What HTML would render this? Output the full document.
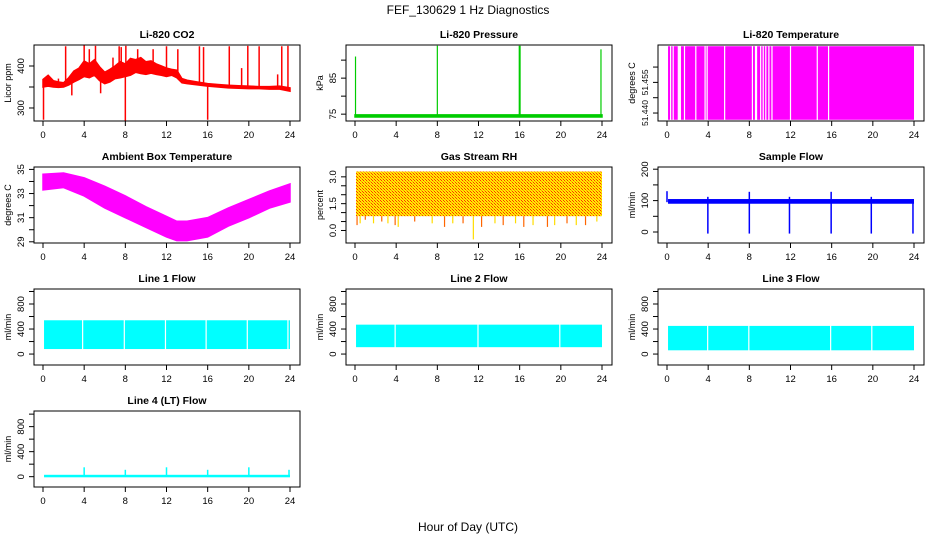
<!DOCTYPE html>
<html><head><meta charset="utf-8"><style>
html,body{margin:0;padding:0;background:#fff}
svg{display:block}
text{font-family:"Liberation Sans",Arial,sans-serif}
</style></head><body>
<svg id="c" width="936" height="540" viewBox="0 0 936 540" xmlns="http://www.w3.org/2000/svg">
<defs>
<pattern id="rhpat" width="3" height="3" patternUnits="userSpaceOnUse">
<rect width="3" height="3" fill="#ffee00"/><rect x="0" y="0" width="1" height="1" fill="#ff3300"/><rect x="2" y="2" width="1" height="1" fill="#ff3300"/><rect x="1" y="1" width="1" height="1" fill="#ff9900"/>
</pattern>
</defs>
<text x="468" y="14" text-anchor="middle" font-size="12">FEF_130629  1 Hz Diagnostics</text>
<text x="468" y="531" text-anchor="middle" font-size="12">Hour of Day (UTC)</text>
</svg>
<script>
// ---- data ----
const xTicks = [0,4,8,12,16,20,24];
// CO2
const co2Hours = [0,0.5,1,1.5,2,2.5,3,3.5,4,4.5,5,5.5,6,6.5,7,7.5,8,8.5,9,9.5,10,10.5,11,11.5,12,12.5,13,13.5,14,15,16,17,18,19,20,21,22,23,24];
const co2Lo = [350,352,350,349,350,355,362,368,375,372,378,365,358,362,370,372,375,378,385,382,380,383,380,378,375,378,372,360,358,355,352,350,348,347,346,346,345,345,340];
const co2Hi = [368,378,365,362,360,372,388,395,412,405,415,398,385,392,400,410,405,418,415,420,410,412,405,400,395,392,390,370,366,362,358,356,354,353,352,351,351,352,348];
const co2SpikeHours = [0.05,1.5,2.2,2.8,4,4.5,5.1,5.6,6.8,7.4,7.6,8,8.05,9.2,10.7,12,13.1,15.2,15.6,16,18.1,19.3,19.9,21,22.8,23.2,23.8];
const co2SpikeVals = [272,370,447,330,450,440,448,335,420,447,445,268,448,440,440,447,440,447,445,272,447,395,448,447,380,447,448];
// Pressure
const presHours = [0,24];
const presBase = [74.5,74.5];
const presSpikeHours = [0.05,8,16,23.9];
const presSpikeVals = [91,94,94,93];
// Li-820 temperature
const ltLo = 51.4378, ltHi = 51.4618;
const ltGapHours = [0.35,0.6,1.1,1.2,1.3,1.7,2.8,3.7,3.9,5.6,8.3,8.6,8.7,9.1,9.35,9.6,9.9,10.2,12,14.6,15.7];
// Ambient box temperature
const ambHours = [0,2,4,6,8,10,12,13,14,16,18,20,22,24];
const ambLo = [33.3,33.5,32.8,31.8,31,30.2,29.4,29.1,29.1,29.4,30.3,31,31.8,32.3];
const ambHi = [34.6,34.7,34.3,33.6,32.8,31.9,31.1,30.7,30.7,31,31.8,32.5,33.2,33.8];
// Gas stream RH
const rhLo = 0.8, rhHi = 3.3;
const rhDipHours = [0.2,0.5,1,1.8,2.6,3.2,3.9,4.2,5.8,7.5,8.7,9.5,10.5,11.5,12.3,13.6,14.4,15.6,16.4,17.3,18.7,19.4,20.6,21.5,22.4,23.5];
const rhDipVals = [0.3,0.4,0.6,0.4,0.5,0.4,0.3,0.2,0.5,0.4,0.2,0.4,0.4,-0.5,0.2,0.4,0.3,0.4,0.2,0.3,0.2,0.3,0.4,0.3,0.3,0.5];
// Sample flow
const sfLo = 90, sfHi = 105;
const sfSpikeHours = [0,3.97,8,11.9,15.95,19.85,23.9];
const sfSpikeMin = [95,-5,-5,-5,-5,-5,-5];
const sfSpikeMax = [130,112,128,112,128,112,105];
// Line flows
const l1Lo = 80, l1Hi = 540, l1Gaps = [3.85,7.9,11.9,15.85,19.85,23.8];
const l2Lo = 110, l2Hi = 470, l2Gaps = [3.9,11.95,19.9];
const l3Lo = 60, l3Hi = 450, l3Gaps = [3.95,7.95,15.9,19.9];
const l4Base = 10;
const l4SpikeHours = [4,8,12,16,20,24];
const l4SpikeVals = [150,110,150,110,150,110];

// ---- layout ----
const NS="http://www.w3.org/2000/svg";
const svg=document.getElementById('c');
const colL=[34,346,658], rowT=[45,167,289,411], W=266, H=76;
function el(tag,attrs,parent){const e=document.createElementNS(NS,tag);for(const k in attrs)e.setAttribute(k,attrs[k]);(parent||svg).appendChild(e);return e;}

function panel(name,col,row,title,ylab,dom,yticks,ylabels,draw,fs){
  const L=colL[col],T=rowT[row],B=T+H,R=L+W;
  const g=el('g',{});
  
  
  const xs=h=>L+9+h*(247/24);
  const ys=v=>B-(v-dom[0])/(dom[1]-dom[0])*H;
  const t=el('text',{x:(L+R)/2,y:T-7,'text-anchor':'middle','font-size':'10.5','font-weight':'bold'},g);
  t.textContent=title;
  
  
  const plot=el('g',{},g);
  
  
  draw(plot,xs,ys);
  const box=el('rect',{x:L,y:T,width:W,height:H,fill:'none',stroke:'#000','stroke-width':1},g);
  
  
  xTicks.forEach(h=>{
    el('line',{x1:xs(h),x2:xs(h),y1:B,y2:B+5,stroke:'#000'},g);
    const tx=el('text',{x:xs(h),y:B+17,'text-anchor':'middle','font-size':'9.5'},g);
    tx.textContent=h;
    
    
  });
  yticks.forEach((v,i)=>{
    const y=ys(v);
    el('line',{x1:L,x2:L-5,y1:y,y2:y,stroke:'#000'},g);
    if(ylabels[i]){
      const tx=el('text',{x:L-10,y:y,'text-anchor':'middle','font-size':fs||'9.5',transform:`rotate(-90 ${L-10} ${y})`},g);
      tx.textContent=ylabels[i];
      
      
    }
  });
  const yl=el('text',{x:L-23,y:(T+B)/2,'text-anchor':'middle','font-size':'9',transform:`rotate(-90 ${L-23} ${(T+B)/2})`},g);
  yl.textContent=ylab;
  
  
}
function band(p,xs,ys,hours,lo,hi,color){
  let d='M'+hours.map((h,i)=>xs(h)+','+ys(hi[i])).join('L');
  for(let i=hours.length-1;i>=0;i--)d+='L'+xs(hours[i])+','+ys(lo[i]);
  const e=el('path',{d:d+'Z',fill:color,stroke:color,'stroke-width':1.5},p);
  
  
}
function vline(p,x,y1,y2,color,w){
  const e=el('line',{x1:x,x2:x,y1:y1,y2:y2,stroke:color,'stroke-width':w||1.2},p);
  
  
}
function rectBand(p,xs,ys,lo,hi,fill,gaps,name){
  const e=el('rect',{x:xs(0.1),y:ys(hi),width:xs(24)-xs(0.1),height:ys(lo)-ys(hi),fill:fill},p);
  
  
  (gaps||[]).forEach(h=>vline(p,xs(h),ys(hi)-1,ys(lo)+1,'#fff',1.2));
}
function nearestIdx(arr,h){let b=0;arr.forEach((v,i)=>{if(Math.abs(v-h)<Math.abs(arr[b]-h))b=i;});return b;}

panel('co2',0,0,'Li-820 CO2','Licor ppm',[269,450],[300,350,400],['300','','400'],(p,xs,ys)=>{
  band(p,xs,ys,co2Hours,co2Lo,co2Hi,'#ff0000');
  co2SpikeHours.forEach((h,i)=>{const k=nearestIdx(co2Hours,h);vline(p,xs(h),ys(co2SpikeVals[i]),ys((co2Lo[k]+co2Hi[k])/2),'#ff0000',1.5);});
});
panel('pressure',1,0,'Li-820 Pressure','kPa',[73.1,94.2],[75,80,85,90],['75','','85',''],(p,xs,ys)=>{
  band(p,xs,ys,presHours,presBase.map(v=>v-0.3),presBase.map(v=>v+0.3),'#00cc00');
  presSpikeHours.forEach((h,i)=>vline(p,xs(h),ys(presSpikeVals[i]),ys(presBase[0]),'#00cc00',h==16?2:1.2));
});
panel('li820-temp',2,0,'Li-820 Temperature','degrees C',[51.4374,51.4622],[51.440,51.445,51.450,51.455],['51.440','','51.455',''],(p,xs,ys)=>{
  rectBand(p,xs,ys,ltLo,ltHi,'#ff00ff',ltGapHours,'temp-block');
},'8.5');
panel('ambient',0,1,'Ambient Box Temperature','degrees C',[28.9,35.2],[29,30,31,32,33,34,35],['29','','31','','33','','35'],(p,xs,ys)=>{
  band(p,xs,ys,ambHours,ambLo,ambHi,'#ff00ff');
});
panel('rh',1,1,'Gas Stream RH','percent',[-0.7,3.55],[0,0.5,1,1.5,2,2.5,3],['0.0','','','1.5','','','3.0'],(p,xs,ys)=>{
  rectBand(p,xs,ys,rhLo,rhHi,'url(#rhpat)',[],'rh-block');
  rhDipHours.forEach((h,i)=>vline(p,xs(h),ys(rhLo),ys(rhDipVals[i]),i%2?'#ffdd00':'#ff6600',1.2));
});
panel('sample-flow',2,1,'Sample Flow','ml/min',[-35,207],[0,50,100,150,200],['0','','100','','200'],(p,xs,ys)=>{
  rectBand(p,xs,ys,sfLo,sfHi,'#0000ff',[],'flow-block');
  sfSpikeHours.forEach((h,i)=>vline(p,xs(h),ys(sfSpikeMax[i]),ys(sfSpikeMin[i]),'#0000ff',1.5));
});
panel('line1',0,2,'Line 1 Flow','ml/min',[-175,1040],[0,200,400,600,800,1000],['0','','400','','800',''],(p,xs,ys)=>{
  rectBand(p,xs,ys,l1Lo,l1Hi,'#00ffff',l1Gaps,'line1-block');
});
panel('line2',1,2,'Line 2 Flow','ml/min',[-175,1040],[0,200,400,600,800,1000],['0','','400','','800',''],(p,xs,ys)=>{
  rectBand(p,xs,ys,l2Lo,l2Hi,'#00ffff',l2Gaps,'line2-block');
});
panel('line3',2,2,'Line 3 Flow','ml/min',[-175,1040],[0,200,400,600,800,1000],['0','','400','','800',''],(p,xs,ys)=>{
  rectBand(p,xs,ys,l3Lo,l3Hi,'#00ffff',l3Gaps,'line3-block');
});
panel('line4',0,3,'Line 4 (LT) Flow','ml/min',[-165,1050],[0,200,400,600,800,1000],['0','','400','','800',''],(p,xs,ys)=>{
  rectBand(p,xs,ys,l4Base-20,l4Base+20,'#00ffff',[],'line4-base');
  l4SpikeHours.forEach((h,i)=>vline(p,xs(h)-(h==24?1:0),ys(l4SpikeVals[i]),ys(l4Base),'#00ffff',1.5));
});
</script>
</body></html>
